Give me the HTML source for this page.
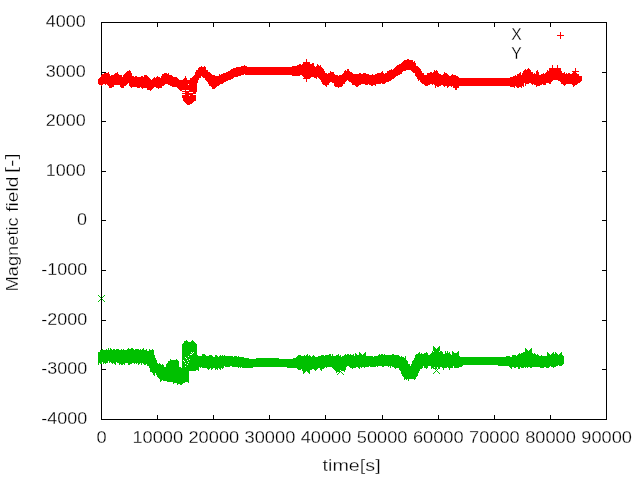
<!DOCTYPE html>
<html><head><meta charset="utf-8"><title>plot</title>
<style>
html,body{margin:0;padding:0;background:#fff;}
body{width:640px;height:480px;overflow:hidden;}
svg{display:block;will-change:transform;}
text{font-family:"Liberation Sans",sans-serif;font-size:16.5px;fill:#000;stroke:#fff;stroke-width:0.26px;}
</style></head><body>
<svg width="640" height="480" viewBox="0 0 640 480">
<rect width="640" height="480" fill="#fff"/>
<path d="M101.5 22.5H606.5V419.5H101.5ZM101.5 419.5v-4.5 M101.5 22.5v4.5M157.5 419.5v-4.5 M157.5 22.5v4.5M213.5 419.5v-4.5 M213.5 22.5v4.5M269.5 419.5v-4.5 M269.5 22.5v4.5M325.5 419.5v-4.5 M325.5 22.5v4.5M382.5 419.5v-4.5 M382.5 22.5v4.5M438.5 419.5v-4.5 M438.5 22.5v4.5M494.5 419.5v-4.5 M494.5 22.5v4.5M550.5 419.5v-4.5 M550.5 22.5v4.5M606.5 419.5v-4.5 M606.5 22.5v4.5M101.5 22.5h4.5 M606.5 22.5h-4.5M101.5 72.5h4.5 M606.5 72.5h-4.5M101.5 121.5h4.5 M606.5 121.5h-4.5M101.5 171.5h4.5 M606.5 171.5h-4.5M101.5 220.5h4.5 M606.5 220.5h-4.5M101.5 270.5h4.5 M606.5 270.5h-4.5M101.5 320.5h4.5 M606.5 320.5h-4.5M101.5 369.5h4.5 M606.5 369.5h-4.5M101.5 419.5h4.5 M606.5 419.5h-4.5" fill="none" stroke="#000" stroke-width="1" shape-rendering="crispEdges"/>
<path d="M98.5 79V84M99.5 78V85M100.5 77V85M101.5 75V86M102.5 74V85M103.5 74V84M104.5 73V84M105.5 73V85M106.5 73V84M107.5 73V85M108.5 72V86M109.5 74V88M110.5 76V88M111.5 75V88M112.5 75V87M113.5 75V87M114.5 74V85M115.5 73V85M116.5 73V85M117.5 72V85M118.5 74V85M119.5 75V85M120.5 75V87M121.5 75V88M122.5 77V88M123.5 75V88M124.5 74V86M125.5 73V86M126.5 72V85M127.5 71V84M128.5 71V83M129.5 70V86M130.5 71V87M131.5 73V88M132.5 76V87M133.5 76V87M134.5 77V87M135.5 76V87M136.5 76V87M137.5 77V88M138.5 77V88M139.5 77V88M140.5 77V87M141.5 76V88M142.5 76V89M143.5 77V88M144.5 75V88M145.5 75V88M146.5 75V88M147.5 76V90M148.5 77V90M149.5 78V90M150.5 79V91M151.5 80V90M152.5 79V89M153.5 78V88M154.5 77V87M155.5 78V87M156.5 77V88M157.5 76V88M158.5 77V89M159.5 77V88M160.5 78V88M161.5 76V88M162.5 74V86M163.5 74V86M164.5 73V85M165.5 73V84M166.5 73V84M167.5 74V84M168.5 73V85M169.5 75V85M170.5 75V86M171.5 75V86M172.5 76V87M173.5 77V87M174.5 77V87M175.5 77V87M176.5 77V87M177.5 78V88M178.5 79V89M179.5 80V90M180.5 80V91M181.5 80V91M182.5 80V98M183.5 79V101M184.5 78V102M185.5 76V103M186.5 78V104M187.5 80V105M188.5 80V105M189.5 80V105M190.5 78V104M191.5 78V104M192.5 77V103M193.5 76V102M194.5 75V101M195.5 72V101M196.5 70V92M197.5 70V83M198.5 68V80M199.5 67V78M200.5 67V78M201.5 66V76M202.5 67V77M203.5 67V78M204.5 66V78M205.5 67V80M206.5 70V81M207.5 70V82M208.5 72V84M209.5 72V86M210.5 73V86M211.5 74V87M212.5 75V89M213.5 75V89M214.5 75V89M215.5 76V88M216.5 76V87M217.5 76V86M218.5 76V86M219.5 74V85M220.5 75V84M221.5 74V84M222.5 74V84M223.5 73V83M224.5 73V82M225.5 73V82M226.5 72V81M227.5 72V81M228.5 71V80M229.5 71V80M230.5 70V80M231.5 69V79M232.5 69V79M233.5 68V78M234.5 68V77M235.5 68V77M236.5 67V77M237.5 67V77M238.5 67V76M239.5 67V76M240.5 67V76M241.5 66V75M242.5 66V75M243.5 66V75M244.5 65V74M245.5 66V75M246.5 66V75M247.5 67V75M248.5 67V75M249.5 67V75M250.5 67V75M251.5 67V75M252.5 67V75M253.5 67V75M254.5 67V75M255.5 67V75M256.5 67V75M257.5 67V75M258.5 67V75M259.5 67V75M260.5 67V75M261.5 67V75M262.5 67V75M263.5 67V75M264.5 67V75M265.5 67V75M266.5 67V75M267.5 67V75M268.5 67V75M269.5 67V75M270.5 67V75M271.5 67V75M272.5 67V75M273.5 67V75M274.5 67V75M275.5 67V75M276.5 67V75M277.5 67V75M278.5 67V75M279.5 67V75M280.5 67V75M281.5 67V75M282.5 67V75M283.5 67V75M284.5 67V75M285.5 67V75M286.5 67V75M287.5 67V75M288.5 67V75M289.5 67V75M290.5 67V75M291.5 67V75M292.5 66V76M293.5 66V76M294.5 66V76M295.5 66V76M296.5 66V76M297.5 65V76M298.5 65V76M299.5 64V76M300.5 64V75M301.5 65V75M302.5 64V76M303.5 63V77M304.5 62V79M305.5 62V79M306.5 62V79M307.5 62V79M308.5 62V79M309.5 62V79M310.5 64V78M311.5 64V77M312.5 63V77M313.5 63V77M314.5 66V78M315.5 67V78M316.5 66V79M317.5 64V77M318.5 65V78M319.5 66V79M320.5 65V80M321.5 67V82M322.5 68V84M323.5 69V85M324.5 71V85M325.5 73V86M326.5 73V87M327.5 74V85M328.5 73V85M329.5 73V83M330.5 71V82M331.5 72V82M332.5 72V83M333.5 72V83M334.5 74V86M335.5 75V87M336.5 75V87M337.5 75V87M338.5 76V88M339.5 75V87M340.5 75V87M341.5 75V87M342.5 74V86M343.5 73V84M344.5 71V84M345.5 70V82M346.5 71V81M347.5 69V80M348.5 69V81M349.5 71V82M350.5 72V82M351.5 72V83M352.5 73V85M353.5 74V85M354.5 74V85M355.5 74V86M356.5 74V87M357.5 74V87M358.5 74V86M359.5 73V85M360.5 73V85M361.5 74V84M362.5 74V84M363.5 73V84M364.5 73V84M365.5 73V85M366.5 74V85M367.5 74V85M368.5 74V84M369.5 75V85M370.5 75V85M371.5 75V86M372.5 74V86M373.5 75V85M374.5 75V85M375.5 74V86M376.5 74V84M377.5 73V84M378.5 73V84M379.5 73V84M380.5 73V84M381.5 72V83M382.5 71V84M383.5 73V84M384.5 74V84M385.5 73V83M386.5 73V82M387.5 71V82M388.5 71V82M389.5 70V81M390.5 70V81M391.5 69V80M392.5 70V79M393.5 69V79M394.5 68V78M395.5 67V77M396.5 66V76M397.5 65V76M398.5 65V75M399.5 64V75M400.5 64V74M401.5 63V74M402.5 62V72M403.5 61V71M404.5 60V71M405.5 60V71M406.5 60V70M407.5 59V70M408.5 59V70M409.5 60V70M410.5 60V70M411.5 60V71M412.5 60V72M413.5 62V73M414.5 61V73M415.5 63V76M416.5 66V77M417.5 66V79M418.5 67V81M419.5 68V80M420.5 69V82M421.5 71V83M422.5 73V84M423.5 73V84M424.5 75V85M425.5 75V86M426.5 75V86M427.5 73V86M428.5 73V85M429.5 73V85M430.5 72V84M431.5 72V84M432.5 73V85M433.5 72V84M434.5 70V85M435.5 71V88M436.5 70V86M437.5 71V87M438.5 73V87M439.5 74V86M440.5 74V86M441.5 75V85M442.5 75V85M443.5 74V86M444.5 72V87M445.5 73V86M446.5 73V86M447.5 74V88M448.5 75V87M449.5 76V86M450.5 76V86M451.5 75V87M452.5 74V86M453.5 75V88M454.5 75V88M455.5 75V90M456.5 76V90M457.5 76V88M458.5 77V88M459.5 78V86M460.5 78V86M461.5 78V86M462.5 78V86M463.5 78V86M464.5 78V86M465.5 78V86M466.5 78V86M467.5 78V86M468.5 78V86M469.5 78V86M470.5 78V86M471.5 78V86M472.5 78V86M473.5 78V86M474.5 78V86M475.5 78V86M476.5 78V86M477.5 78V86M478.5 78V86M479.5 78V86M480.5 78V86M481.5 78V86M482.5 78V86M483.5 78V86M484.5 78V86M485.5 78V86M486.5 78V86M487.5 78V86M488.5 78V86M489.5 78V86M490.5 78V86M491.5 78V86M492.5 78V86M493.5 78V86M494.5 78V86M495.5 78V86M496.5 78V86M497.5 78V86M498.5 78V86M499.5 78V86M500.5 78V86M501.5 78V86M502.5 78V86M503.5 78V86M504.5 78V86M505.5 78V86M506.5 78V86M507.5 78V86M508.5 78V86M509.5 78V86M510.5 77V87M511.5 77V87M512.5 77V87M513.5 76V87M514.5 76V88M515.5 75V86M516.5 76V87M517.5 74V88M518.5 74V88M519.5 73V87M520.5 72V87M521.5 75V88M522.5 73V86M523.5 71V87M524.5 70V83M525.5 69V86M526.5 70V84M527.5 69V84M528.5 68V84M529.5 69V83M530.5 70V83M531.5 72V84M532.5 72V85M533.5 74V84M534.5 73V85M535.5 74V85M536.5 71V87M537.5 70V86M538.5 72V86M539.5 75V86M540.5 75V85M541.5 74V85M542.5 74V84M543.5 73V85M544.5 74V85M545.5 73V85M546.5 72V83M547.5 70V83M548.5 71V83M549.5 68V84M550.5 68V84M551.5 68V82M552.5 68V81M553.5 68V80M554.5 68V80M555.5 68V80M556.5 68V80M557.5 68V80M558.5 68V81M559.5 68V81M560.5 68V82M561.5 71V84M562.5 73V84M563.5 73V85M564.5 72V86M565.5 74V85M566.5 73V84M567.5 74V84M568.5 73V84M569.5 73V84M570.5 74V84M571.5 74V84M572.5 73V85M573.5 71V87M574.5 72V86M575.5 73V85M576.5 73V85M577.5 74V84M578.5 74V83M579.5 76V83M580.5 76V82M581.5 76V81" stroke="#ff0000" stroke-width="1" fill="none" shape-rendering="crispEdges"/>
<path d="M98.5 352V365M99.5 352V363M100.5 350V364M101.5 350V364M102.5 349V362M103.5 350V364M104.5 350V363M105.5 350V364M106.5 349V363M107.5 350V363M108.5 348V361M109.5 350V363M110.5 348V362M111.5 349V363M112.5 350V364M113.5 349V363M114.5 349V364M115.5 350V365M116.5 349V362M117.5 349V363M118.5 349V363M119.5 350V365M120.5 350V364M121.5 349V365M122.5 350V365M123.5 349V364M124.5 350V365M125.5 350V363M126.5 350V363M127.5 349V363M128.5 348V365M129.5 349V365M130.5 349V364M131.5 348V364M132.5 348V363M133.5 349V363M134.5 350V364M135.5 349V363M136.5 349V364M137.5 349V363M138.5 349V365M139.5 350V364M140.5 349V363M141.5 350V365M142.5 349V363M143.5 348V364M144.5 350V365M145.5 350V365M146.5 349V364M147.5 351V366M148.5 351V366M149.5 349V368M150.5 350V372M151.5 350V372M152.5 349V373M153.5 350V375M154.5 355V376M155.5 358V373M156.5 360V375M157.5 363V377M158.5 364V378M159.5 363V379M160.5 364V382M161.5 365V381M162.5 364V380M163.5 365V381M164.5 367V381M165.5 367V381M166.5 364V381M167.5 363V382M168.5 361V382M169.5 361V382M170.5 359V382M171.5 360V382M172.5 360V382M173.5 360V384M174.5 360V383M175.5 360V383M176.5 359V383M177.5 360V385M178.5 361V384M179.5 367V384M180.5 367V385M181.5 368V385M182.5 344V384M183.5 343V383M184.5 341V383M185.5 341V382M186.5 340V382M187.5 341V382M188.5 342V383M189.5 342V371M190.5 342V371M191.5 341V371M192.5 340V371M193.5 341V371M194.5 342V371M195.5 343V371M196.5 344V370M197.5 355V370M198.5 356V371M199.5 356V367M200.5 356V368M201.5 356V367M202.5 354V368M203.5 354V368M204.5 354V368M205.5 355V368M206.5 356V368M207.5 356V369M208.5 356V370M209.5 355V369M210.5 355V368M211.5 355V370M212.5 356V369M213.5 357V368M214.5 357V368M215.5 355V370M216.5 355V369M217.5 356V370M218.5 357V368M219.5 356V369M220.5 355V370M221.5 356V368M222.5 355V369M223.5 356V368M224.5 355V366M225.5 356V367M226.5 356V367M227.5 356V367M228.5 356V367M229.5 356V367M230.5 356V366M231.5 356V366M232.5 356V367M233.5 357V367M234.5 356V367M235.5 356V367M236.5 356V367M237.5 357V367M238.5 356V368M239.5 357V367M240.5 357V368M241.5 357V367M242.5 357V368M243.5 357V368M244.5 358V368M245.5 358V368M246.5 358V368M247.5 358V368M248.5 358V368M249.5 359V368M250.5 359V368M251.5 359V368M252.5 359V368M253.5 359V367M254.5 359V367M255.5 359V367M256.5 358V367M257.5 358V367M258.5 358V367M259.5 358V367M260.5 358V367M261.5 358V367M262.5 358V367M263.5 358V367M264.5 358V367M265.5 358V367M266.5 358V367M267.5 358V367M268.5 358V367M269.5 358V367M270.5 358V367M271.5 358V367M272.5 358V367M273.5 358V367M274.5 358V367M275.5 358V367M276.5 358V367M277.5 358V367M278.5 358V367M279.5 359V367M280.5 359V367M281.5 359V367M282.5 359V367M283.5 359V367M284.5 359V367M285.5 359V367M286.5 359V367M287.5 359V368M288.5 359V368M289.5 359V368M290.5 359V368M291.5 359V368M292.5 359V368M293.5 358V368M294.5 358V368M295.5 358V368M296.5 357V368M297.5 356V369M298.5 355V370M299.5 355V370M300.5 355V370M301.5 356V369M302.5 356V371M303.5 356V371M304.5 355V372M305.5 356V370M306.5 355V371M307.5 354V371M308.5 356V371M309.5 355V371M310.5 356V370M311.5 357V370M312.5 356V369M313.5 355V369M314.5 356V370M315.5 357V371M316.5 357V370M317.5 357V369M318.5 356V368M319.5 356V368M320.5 356V370M321.5 355V371M322.5 355V369M323.5 355V369M324.5 356V368M325.5 355V367M326.5 355V368M327.5 355V367M328.5 355V367M329.5 354V367M330.5 354V367M331.5 356V367M332.5 354V368M333.5 356V369M334.5 356V370M335.5 356V371M336.5 355V373M337.5 355V372M338.5 354V372M339.5 356V372M340.5 355V370M341.5 357V371M342.5 356V371M343.5 356V371M344.5 355V372M345.5 354V370M346.5 355V367M347.5 354V366M348.5 354V366M349.5 355V367M350.5 354V368M351.5 355V368M352.5 355V369M353.5 354V368M354.5 356V368M355.5 353V368M356.5 354V367M357.5 355V367M358.5 355V368M359.5 355V369M360.5 355V367M361.5 355V368M362.5 356V367M363.5 355V367M364.5 356V368M365.5 355V367M366.5 356V367M367.5 356V367M368.5 356V367M369.5 356V366M370.5 356V367M371.5 356V367M372.5 356V367M373.5 357V367M374.5 356V367M375.5 356V367M376.5 356V366M377.5 356V367M378.5 355V366M379.5 354V366M380.5 355V366M381.5 354V366M382.5 354V367M383.5 355V367M384.5 354V366M385.5 355V366M386.5 355V366M387.5 355V366M388.5 355V367M389.5 355V366M390.5 355V368M391.5 355V366M392.5 354V367M393.5 354V367M394.5 355V368M395.5 355V369M396.5 355V368M397.5 355V368M398.5 355V368M399.5 356V370M400.5 357V371M401.5 356V374M402.5 357V376M403.5 357V377M404.5 358V380M405.5 356V379M406.5 360V380M407.5 361V379M408.5 364V381M409.5 364V379M410.5 366V379M411.5 364V379M412.5 361V379M413.5 360V379M414.5 358V380M415.5 355V379M416.5 354V377M417.5 354V376M418.5 353V373M419.5 352V371M420.5 354V369M421.5 353V369M422.5 354V368M423.5 354V366M424.5 353V368M425.5 353V368M426.5 352V369M427.5 353V368M428.5 355V366M429.5 355V366M430.5 354V366M431.5 353V369M432.5 351V368M433.5 352V369M434.5 351V367M435.5 351V369M436.5 353V369M437.5 352V367M438.5 353V369M439.5 352V369M440.5 351V367M441.5 351V367M442.5 352V368M443.5 354V370M444.5 354V368M445.5 351V368M446.5 353V368M447.5 351V367M448.5 353V368M449.5 352V370M450.5 354V368M451.5 355V368M452.5 353V368M453.5 354V366M454.5 354V368M455.5 353V368M456.5 353V368M457.5 354V368M458.5 354V368M459.5 356V367M460.5 357V367M461.5 357V367M462.5 357V366M463.5 357V365M464.5 357V365M465.5 357V365M466.5 357V365M467.5 357V365M468.5 357V365M469.5 357V365M470.5 357V365M471.5 357V365M472.5 357V365M473.5 357V365M474.5 357V365M475.5 357V365M476.5 357V365M477.5 357V365M478.5 357V365M479.5 357V365M480.5 357V365M481.5 357V365M482.5 357V365M483.5 357V365M484.5 357V365M485.5 357V365M486.5 357V365M487.5 357V365M488.5 357V365M489.5 357V365M490.5 357V365M491.5 357V365M492.5 357V365M493.5 357V365M494.5 357V365M495.5 357V365M496.5 357V365M497.5 357V365M498.5 357V366M499.5 357V366M500.5 357V366M501.5 357V366M502.5 357V366M503.5 357V366M504.5 357V366M505.5 357V366M506.5 356V366M507.5 356V366M508.5 356V366M509.5 356V367M510.5 357V368M511.5 357V369M512.5 355V367M513.5 355V367M514.5 355V368M515.5 355V368M516.5 356V367M517.5 355V367M518.5 354V369M519.5 353V369M520.5 354V367M521.5 353V368M522.5 353V368M523.5 352V368M524.5 352V367M525.5 353V368M526.5 352V367M527.5 354V368M528.5 352V367M529.5 353V367M530.5 354V368M531.5 353V368M532.5 353V367M533.5 354V367M534.5 353V367M535.5 354V367M536.5 355V367M537.5 354V367M538.5 355V367M539.5 356V367M540.5 356V368M541.5 355V368M542.5 356V368M543.5 356V368M544.5 356V367M545.5 356V367M546.5 356V368M547.5 355V368M548.5 355V368M549.5 356V367M550.5 355V366M551.5 355V367M552.5 354V367M553.5 355V368M554.5 354V367M555.5 355V367M556.5 355V366M557.5 355V366M558.5 355V365M559.5 356V366M560.5 355V366M561.5 355V366M562.5 355V365M563.5 356V364" stroke="#00c000" stroke-width="1" fill="none" shape-rendering="crispEdges"/>
<path d="M549 68.5h7M552.5 65v7" stroke="#ff0000" stroke-width="1" fill="none" shape-rendering="crispEdges"/>
<path d="M554 68.5h7M557.5 65v7" stroke="#ff0000" stroke-width="1" fill="none" shape-rendering="crispEdges"/>
<path d="M572 71.5h7M575.5 68v7" stroke="#ff0000" stroke-width="1" fill="none" shape-rendering="crispEdges"/>
<path d="M303 62.5h7M306.5 59v7" stroke="#ff0000" stroke-width="1" fill="none" shape-rendering="crispEdges"/>
<path d="M303 78.5h7M306.5 75v7" stroke="#ff0000" stroke-width="1" fill="none" shape-rendering="crispEdges"/>
<path d="M433 346.5h1M433 352.5h1M434 347.5h1M434 351.5h1M435 348.5h1M435 350.5h1M436 349.5h1M436 349.5h1M437 350.5h1M437 348.5h1M438 351.5h1M438 347.5h1M439 352.5h1M439 346.5h1" stroke="#00c000" stroke-width="1" fill="none" shape-rendering="crispEdges"/><path d="M433 347.5h1M433 353.5h1M434 348.5h1M434 352.5h1M435 349.5h1M435 351.5h1M436 350.5h1M436 350.5h1M437 351.5h1M437 349.5h1M438 352.5h1M438 348.5h1M439 353.5h1M439 347.5h1" stroke="#00c000" stroke-width="1" fill="none" shape-rendering="crispEdges"/><path d="M433 348.5h1M433 354.5h1M434 349.5h1M434 353.5h1M435 350.5h1M435 352.5h1M436 351.5h1M436 351.5h1M437 352.5h1M437 350.5h1M438 353.5h1M438 349.5h1M439 354.5h1M439 348.5h1" stroke="#00c000" stroke-width="1" fill="none" shape-rendering="crispEdges"/><path d="M433 349.5h1M433 355.5h1M434 350.5h1M434 354.5h1M435 351.5h1M435 353.5h1M436 352.5h1M436 352.5h1M437 353.5h1M437 351.5h1M438 354.5h1M438 350.5h1M439 355.5h1M439 349.5h1" stroke="#00c000" stroke-width="1" fill="none" shape-rendering="crispEdges"/><path d="M433 350.5h1M433 356.5h1M434 351.5h1M434 355.5h1M435 352.5h1M435 354.5h1M436 353.5h1M436 353.5h1M437 354.5h1M437 352.5h1M438 355.5h1M438 351.5h1M439 356.5h1M439 350.5h1" stroke="#00c000" stroke-width="1" fill="none" shape-rendering="crispEdges"/>
<path d="M452 351.5h1M452 357.5h1M453 352.5h1M453 356.5h1M454 353.5h1M454 355.5h1M455 354.5h1M455 354.5h1M456 355.5h1M456 353.5h1M457 356.5h1M457 352.5h1M458 357.5h1M458 351.5h1" stroke="#00c000" stroke-width="1" fill="none" shape-rendering="crispEdges"/><path d="M452 352.5h1M452 358.5h1M453 353.5h1M453 357.5h1M454 354.5h1M454 356.5h1M455 355.5h1M455 355.5h1M456 356.5h1M456 354.5h1M457 357.5h1M457 353.5h1M458 358.5h1M458 352.5h1" stroke="#00c000" stroke-width="1" fill="none" shape-rendering="crispEdges"/><path d="M452 353.5h1M452 359.5h1M453 354.5h1M453 358.5h1M454 355.5h1M454 357.5h1M455 356.5h1M455 356.5h1M456 357.5h1M456 355.5h1M457 358.5h1M457 354.5h1M458 359.5h1M458 353.5h1" stroke="#00c000" stroke-width="1" fill="none" shape-rendering="crispEdges"/><path d="M452 354.5h1M452 360.5h1M453 355.5h1M453 359.5h1M454 356.5h1M454 358.5h1M455 357.5h1M455 357.5h1M456 358.5h1M456 356.5h1M457 359.5h1M457 355.5h1M458 360.5h1M458 354.5h1" stroke="#00c000" stroke-width="1" fill="none" shape-rendering="crispEdges"/><path d="M452 355.5h1M452 361.5h1M453 356.5h1M453 360.5h1M454 357.5h1M454 359.5h1M455 358.5h1M455 358.5h1M456 359.5h1M456 357.5h1M457 360.5h1M457 356.5h1M458 361.5h1M458 355.5h1" stroke="#00c000" stroke-width="1" fill="none" shape-rendering="crispEdges"/>
<path d="M359 352.5h1M359 358.5h1M360 353.5h1M360 357.5h1M361 354.5h1M361 356.5h1M362 355.5h1M362 355.5h1M363 356.5h1M363 354.5h1M364 357.5h1M364 353.5h1M365 358.5h1M365 352.5h1" stroke="#00c000" stroke-width="1" fill="none" shape-rendering="crispEdges"/><path d="M359 353.5h1M359 359.5h1M360 354.5h1M360 358.5h1M361 355.5h1M361 357.5h1M362 356.5h1M362 356.5h1M363 357.5h1M363 355.5h1M364 358.5h1M364 354.5h1M365 359.5h1M365 353.5h1" stroke="#00c000" stroke-width="1" fill="none" shape-rendering="crispEdges"/><path d="M359 354.5h1M359 360.5h1M360 355.5h1M360 359.5h1M361 356.5h1M361 358.5h1M362 357.5h1M362 357.5h1M363 358.5h1M363 356.5h1M364 359.5h1M364 355.5h1M365 360.5h1M365 354.5h1" stroke="#00c000" stroke-width="1" fill="none" shape-rendering="crispEdges"/><path d="M359 355.5h1M359 361.5h1M360 356.5h1M360 360.5h1M361 357.5h1M361 359.5h1M362 358.5h1M362 358.5h1M363 359.5h1M363 357.5h1M364 360.5h1M364 356.5h1M365 361.5h1M365 355.5h1" stroke="#00c000" stroke-width="1" fill="none" shape-rendering="crispEdges"/><path d="M359 356.5h1M359 362.5h1M360 357.5h1M360 361.5h1M361 358.5h1M361 360.5h1M362 359.5h1M362 359.5h1M363 360.5h1M363 358.5h1M364 361.5h1M364 357.5h1M365 362.5h1M365 356.5h1" stroke="#00c000" stroke-width="1" fill="none" shape-rendering="crispEdges"/>
<path d="M525 348.5h1M525 354.5h1M526 349.5h1M526 353.5h1M527 350.5h1M527 352.5h1M528 351.5h1M528 351.5h1M529 352.5h1M529 350.5h1M530 353.5h1M530 349.5h1M531 354.5h1M531 348.5h1" stroke="#00c000" stroke-width="1" fill="none" shape-rendering="crispEdges"/><path d="M525 349.5h1M525 355.5h1M526 350.5h1M526 354.5h1M527 351.5h1M527 353.5h1M528 352.5h1M528 352.5h1M529 353.5h1M529 351.5h1M530 354.5h1M530 350.5h1M531 355.5h1M531 349.5h1" stroke="#00c000" stroke-width="1" fill="none" shape-rendering="crispEdges"/><path d="M525 350.5h1M525 356.5h1M526 351.5h1M526 355.5h1M527 352.5h1M527 354.5h1M528 353.5h1M528 353.5h1M529 354.5h1M529 352.5h1M530 355.5h1M530 351.5h1M531 356.5h1M531 350.5h1" stroke="#00c000" stroke-width="1" fill="none" shape-rendering="crispEdges"/><path d="M525 351.5h1M525 357.5h1M526 352.5h1M526 356.5h1M527 353.5h1M527 355.5h1M528 354.5h1M528 354.5h1M529 355.5h1M529 353.5h1M530 356.5h1M530 352.5h1M531 357.5h1M531 351.5h1" stroke="#00c000" stroke-width="1" fill="none" shape-rendering="crispEdges"/><path d="M525 352.5h1M525 358.5h1M526 353.5h1M526 357.5h1M527 354.5h1M527 356.5h1M528 355.5h1M528 355.5h1M529 356.5h1M529 354.5h1M530 357.5h1M530 353.5h1M531 358.5h1M531 352.5h1" stroke="#00c000" stroke-width="1" fill="none" shape-rendering="crispEdges"/>
<path d="M547 352.5h1M547 358.5h1M548 353.5h1M548 357.5h1M549 354.5h1M549 356.5h1M550 355.5h1M550 355.5h1M551 356.5h1M551 354.5h1M552 357.5h1M552 353.5h1M553 358.5h1M553 352.5h1" stroke="#00c000" stroke-width="1" fill="none" shape-rendering="crispEdges"/><path d="M547 353.5h1M547 359.5h1M548 354.5h1M548 358.5h1M549 355.5h1M549 357.5h1M550 356.5h1M550 356.5h1M551 357.5h1M551 355.5h1M552 358.5h1M552 354.5h1M553 359.5h1M553 353.5h1" stroke="#00c000" stroke-width="1" fill="none" shape-rendering="crispEdges"/><path d="M547 354.5h1M547 360.5h1M548 355.5h1M548 359.5h1M549 356.5h1M549 358.5h1M550 357.5h1M550 357.5h1M551 358.5h1M551 356.5h1M552 359.5h1M552 355.5h1M553 360.5h1M553 354.5h1" stroke="#00c000" stroke-width="1" fill="none" shape-rendering="crispEdges"/><path d="M547 355.5h1M547 361.5h1M548 356.5h1M548 360.5h1M549 357.5h1M549 359.5h1M550 358.5h1M550 358.5h1M551 359.5h1M551 357.5h1M552 360.5h1M552 356.5h1M553 361.5h1M553 355.5h1" stroke="#00c000" stroke-width="1" fill="none" shape-rendering="crispEdges"/><path d="M547 356.5h1M547 362.5h1M548 357.5h1M548 361.5h1M549 358.5h1M549 360.5h1M550 359.5h1M550 359.5h1M551 360.5h1M551 358.5h1M552 361.5h1M552 357.5h1M553 362.5h1M553 356.5h1" stroke="#00c000" stroke-width="1" fill="none" shape-rendering="crispEdges"/>
<path d="M555 352.5h1M555 358.5h1M556 353.5h1M556 357.5h1M557 354.5h1M557 356.5h1M558 355.5h1M558 355.5h1M559 356.5h1M559 354.5h1M560 357.5h1M560 353.5h1M561 358.5h1M561 352.5h1" stroke="#00c000" stroke-width="1" fill="none" shape-rendering="crispEdges"/><path d="M555 353.5h1M555 359.5h1M556 354.5h1M556 358.5h1M557 355.5h1M557 357.5h1M558 356.5h1M558 356.5h1M559 357.5h1M559 355.5h1M560 358.5h1M560 354.5h1M561 359.5h1M561 353.5h1" stroke="#00c000" stroke-width="1" fill="none" shape-rendering="crispEdges"/><path d="M555 354.5h1M555 360.5h1M556 355.5h1M556 359.5h1M557 356.5h1M557 358.5h1M558 357.5h1M558 357.5h1M559 358.5h1M559 356.5h1M560 359.5h1M560 355.5h1M561 360.5h1M561 354.5h1" stroke="#00c000" stroke-width="1" fill="none" shape-rendering="crispEdges"/><path d="M555 355.5h1M555 361.5h1M556 356.5h1M556 360.5h1M557 357.5h1M557 359.5h1M558 358.5h1M558 358.5h1M559 359.5h1M559 357.5h1M560 360.5h1M560 356.5h1M561 361.5h1M561 355.5h1" stroke="#00c000" stroke-width="1" fill="none" shape-rendering="crispEdges"/><path d="M555 356.5h1M555 362.5h1M556 357.5h1M556 361.5h1M557 358.5h1M557 360.5h1M558 359.5h1M558 359.5h1M559 360.5h1M559 358.5h1M560 361.5h1M560 357.5h1M561 362.5h1M561 356.5h1" stroke="#00c000" stroke-width="1" fill="none" shape-rendering="crispEdges"/>
<path d="M303 367.5h1M303 373.5h1M304 368.5h1M304 372.5h1M305 369.5h1M305 371.5h1M306 370.5h1M306 370.5h1M307 371.5h1M307 369.5h1M308 372.5h1M308 368.5h1M309 373.5h1M309 367.5h1" stroke="#00c000" stroke-width="1" fill="none" shape-rendering="crispEdges"/><path d="M303 366.5h1M303 372.5h1M304 367.5h1M304 371.5h1M305 368.5h1M305 370.5h1M306 369.5h1M306 369.5h1M307 370.5h1M307 368.5h1M308 371.5h1M308 367.5h1M309 372.5h1M309 366.5h1" stroke="#00c000" stroke-width="1" fill="none" shape-rendering="crispEdges"/><path d="M303 365.5h1M303 371.5h1M304 366.5h1M304 370.5h1M305 367.5h1M305 369.5h1M306 368.5h1M306 368.5h1M307 369.5h1M307 367.5h1M308 370.5h1M308 366.5h1M309 371.5h1M309 365.5h1" stroke="#00c000" stroke-width="1" fill="none" shape-rendering="crispEdges"/><path d="M303 364.5h1M303 370.5h1M304 365.5h1M304 369.5h1M305 366.5h1M305 368.5h1M306 367.5h1M306 367.5h1M307 368.5h1M307 366.5h1M308 369.5h1M308 365.5h1M309 370.5h1M309 364.5h1" stroke="#00c000" stroke-width="1" fill="none" shape-rendering="crispEdges"/>
<path d="M337 368.5h1M337 374.5h1M338 369.5h1M338 373.5h1M339 370.5h1M339 372.5h1M340 371.5h1M340 371.5h1M341 372.5h1M341 370.5h1M342 373.5h1M342 369.5h1M343 374.5h1M343 368.5h1" stroke="#00c000" stroke-width="1" fill="none" shape-rendering="crispEdges"/>
<path d="M433 367.5h1M433 373.5h1M434 368.5h1M434 372.5h1M435 369.5h1M435 371.5h1M436 370.5h1M436 370.5h1M437 371.5h1M437 369.5h1M438 372.5h1M438 368.5h1M439 373.5h1M439 367.5h1" stroke="#00c000" stroke-width="1" fill="none" shape-rendering="crispEdges"/>
<path d="M182 90.5h3M186 90.5h3M182 92.5h3M189 92.5h4M182 94.5h3M193 94.5h3M189 95.5h1M188 84.5h1" stroke="#fff" stroke-width="1" fill="none" shape-rendering="crispEdges"/>
<path d="M191 352.5h1M193 352.5h1M192 353.5h1M191 354.5h1M190 354.5h1M185 357.5h1M188 356.5h1M183 360.5h1M187 360.5h1M185 363.5h1M188 362.5h1M185 366.5h1M187 364.5h1M184 361.5h1M186 358.5h1M189 359.5h1" stroke="#fff" stroke-width="1" fill="none" shape-rendering="crispEdges"/>
<path d="M557 35.5h7M560.5 32v7" stroke="#ff0000" stroke-width="1" shape-rendering="crispEdges" fill="none"/>
<path d="M98 295.5h1M99 296.5h1M100 297.5h1M102 299.5h1M103 300.5h1M104 301.5h1M104 295.5h1M103 296.5h1M102 297.5h1M100 299.5h1M99 300.5h1M98 301.5h1" stroke="#00c000" stroke-width="1" fill="none" shape-rendering="crispEdges"/>
<g>
<text transform="translate(85.80,27.00) scale(1.0900,1)" text-anchor="end">4000</text>
<text transform="translate(85.80,77.00) scale(1.0900,1)" text-anchor="end">3000</text>
<text transform="translate(85.80,126.00) scale(1.0900,1)" text-anchor="end">2000</text>
<text transform="translate(85.80,176.00) scale(1.0900,1)" text-anchor="end">1000</text>
<text transform="translate(87.00,225.00) scale(1.0900,1)" text-anchor="end">0</text>
<text transform="translate(87.20,275.00) scale(1.0900,1)" text-anchor="end">-1000</text>
<text transform="translate(87.20,325.00) scale(1.0900,1)" text-anchor="end">-2000</text>
<text transform="translate(87.20,374.00) scale(1.0900,1)" text-anchor="end">-3000</text>
<text transform="translate(87.20,424.00) scale(1.0900,1)" text-anchor="end">-4000</text>
<text transform="translate(101.60,443.00) scale(1.1050,1)" text-anchor="middle">0</text>
<text transform="translate(157.71,443.00) scale(1.1050,1)" text-anchor="middle">10000</text>
<text transform="translate(213.82,443.00) scale(1.1050,1)" text-anchor="middle">20000</text>
<text transform="translate(269.93,443.00) scale(1.1050,1)" text-anchor="middle">30000</text>
<text transform="translate(326.04,443.00) scale(1.1050,1)" text-anchor="middle">40000</text>
<text transform="translate(382.16,443.00) scale(1.1050,1)" text-anchor="middle">50000</text>
<text transform="translate(438.27,443.00) scale(1.1050,1)" text-anchor="middle">60000</text>
<text transform="translate(494.38,443.00) scale(1.1050,1)" text-anchor="middle">70000</text>
<text transform="translate(550.49,443.00) scale(1.1050,1)" text-anchor="middle">80000</text>
<text transform="translate(606.60,443.00) scale(1.1050,1)" text-anchor="middle">90000</text>
<text transform="translate(351.60,471.00) scale(1.1950,1)" text-anchor="middle">time[s]</text>
<text transform="translate(17.50,254.40) rotate(-90) scale(1.1070,1)" text-anchor="middle">Magnetic</text>
<text transform="translate(17.50,194.20) rotate(-90) scale(1.1600,1)" text-anchor="middle">field</text>
<text transform="translate(17.30,163.20) rotate(-90) scale(1.3500,1)" text-anchor="middle">[-]</text>
<text transform="translate(516.50,40.00) scale(0.9500,1)" text-anchor="middle">X</text>
<text transform="translate(516.50,59.00) scale(0.9500,1)" text-anchor="middle">Y</text>
</g>
</svg>
</body></html>
